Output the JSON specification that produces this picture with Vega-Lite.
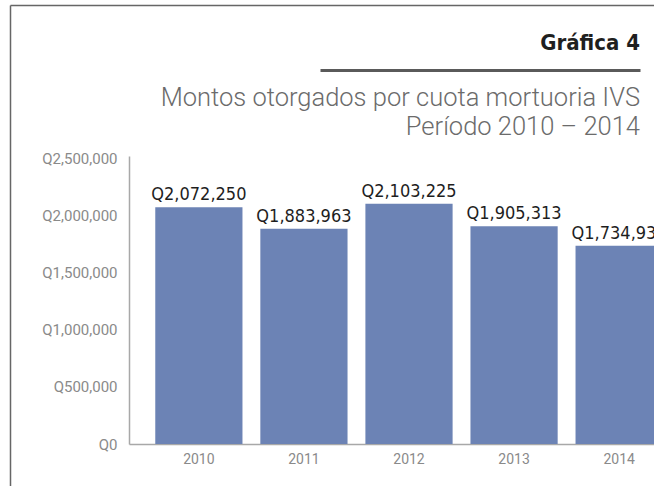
{
  "$schema": "https://vega.github.io/schema/vega-lite/v6.json",
  "width": 525,
  "height": 288,
  "autosize": {"type": "none"},
  "padding": {"left": 129, "top": 156, "right": 0, "bottom": 42},
  "background": "white",
  "title": {
    "text": "Gráfica 4",
    "subtitle": ["Montos otorgados por cuota mortuoria IVS", "Período 2010 – 2014"],
    "anchor": "end",
    "frame": "group",
    "dx": -14,
    "offset": -139,
    "font": "DejaVu Sans Condensed",
    "fontSize": 22,
    "fontWeight": "bold",
    "color": "#1f1f1f",
    "subtitleFont": "Roboto",
    "subtitleFontSize": 25.5,
    "subtitleFontWeight": 300,
    "subtitleColor": "#6b6b6b",
    "subtitleLineHeight": 29,
    "subtitlePadding": 31
  },
  "config": {"view": {"stroke": null}},
  "datasets": {
    "main": [
      {"year": "2010", "monto": 2072250, "label": "Q2,072,250"},
      {"year": "2011", "monto": 1883963, "label": "Q1,883,963"},
      {"year": "2012", "monto": 2103225, "label": "Q2,103,225"},
      {"year": "2013", "monto": 1905313, "label": "Q1,905,313"},
      {"year": "2014", "monto": 1734938, "label": "Q1,734,938"}
    ],
    "frame": [{"v": 0}, {"v": 1}]
  },
  "layer": [
    {
      "data": {"name": "main"},
      "encoding": {
        "x": {
          "field": "year",
          "type": "ordinal",
          "scale": {"range": [0, 560], "paddingInner": 0.17, "paddingOuter": 0.25},
          "axis": {
            "title": null,
            "ticks": false,
            "domainColor": "#a8a8a8",
            "domainWidth": 1.5,
            "labelAngle": 0,
            "labelFont": "Roboto",
            "labelFontSize": 14,
            "labelColor": "#8a8a8a",
            "labelPadding": 8
          }
        },
        "y": {
          "field": "monto",
          "type": "quantitative",
          "scale": {"domain": [0, 2520000], "nice": false},
          "axis": {
            "title": null,
            "ticks": false,
            "grid": false,
            "values": [0, 500000, 1000000, 1500000, 2000000, 2500000],
            "labelExpr": "'Q' + format(datum.value, ',')",
            "domainColor": "#a8a8a8",
            "domainWidth": 1.5,
            "labelFont": "Roboto",
            "labelFontSize": 15,
            "labelColor": "#8a8a8a",
            "labelPadding": 12
          }
        }
      },
      "layer": [
        {"mark": {"type": "bar", "color": "#6c83b5"}},
        {
          "mark": {
            "type": "text",
            "baseline": "bottom",
            "dy": -3,
            "font": "DejaVu Sans Condensed",
            "fontSize": 18,
            "color": "#1e1e1e"
          },
          "encoding": {"text": {"field": "label"}}
        }
      ]
    },
    {
      "data": {"name": "frame"},
      "mark": {"type": "point", "opacity": 0},
      "encoding": {
        "x": {
          "field": "v",
          "type": "quantitative",
          "scale": {"domain": [0, 1], "range": [-119, 525], "nice": false, "zero": false},
          "axis": {"orient": "top", "offset": 151, "domainColor": "#666666", "domainWidth": 1.5, "ticks": false, "labels": false, "grid": false, "title": null}
        },
        "y": {
          "field": "v",
          "type": "quantitative",
          "scale": {"domain": [0, 1], "range": [330, -151], "nice": false, "zero": false},
          "axis": {"orient": "left", "offset": 119, "domainColor": "#666666", "domainWidth": 1.5, "ticks": false, "labels": false, "grid": false, "title": null}
        }
      }
    },
    {
      "data": {"name": "frame"},
      "mark": {"type": "point", "opacity": 0},
      "encoding": {
        "x": {
          "field": "v",
          "type": "quantitative",
          "scale": {"domain": [0, 1], "range": [191, 511], "nice": false, "zero": false},
          "axis": {"orient": "top", "offset": 86, "domainColor": "#5a5a5a", "domainWidth": 3, "ticks": false, "labels": false, "grid": false, "title": null}
        }
      }
    }
  ],
  "resolve": {"scale": {"x": "independent", "y": "independent"}}
}
